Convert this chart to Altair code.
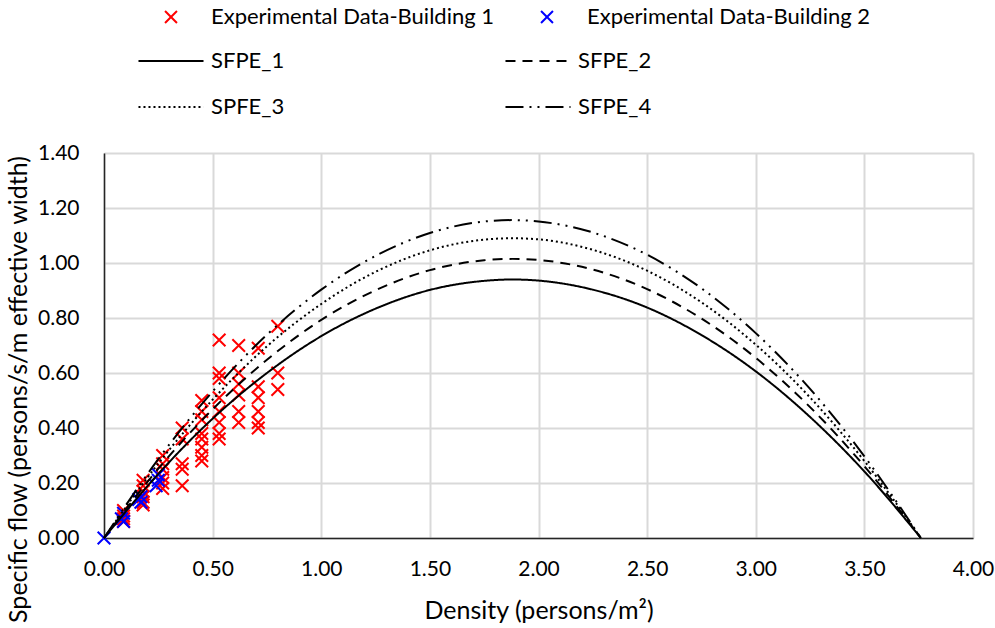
import altair as alt
import pandas as pd

# ---------------- data ----------------
series_points = ["Experimental Data-Building 1", "Experimental Data-Building 2"]
series_lines = ["SFPE_1", "SFPE_2", "SPFE_3", "SFPE_4"]

# Building 1 (red crosses)
b1_density = ([0.09] * 4 + [0.18] * 6 + [0.27] * 6 + [0.36] * 5 + [0.45] * 8
              + [0.53] * 8 + [0.62] * 6 + [0.71] * 6 + [0.80] * 3)
b1_flow = ([0.10, 0.08, 0.07, 0.06]
           + [0.21, 0.19, 0.17, 0.15, 0.13, 0.12]
           + [0.30, 0.27, 0.25, 0.22, 0.20, 0.18]
           + [0.40, 0.36, 0.27, 0.25, 0.19]
           + [0.50, 0.46, 0.43, 0.38, 0.36, 0.33, 0.30, 0.28]
           + [0.72, 0.60, 0.58, 0.51, 0.46, 0.42, 0.38, 0.36]
           + [0.70, 0.60, 0.56, 0.52, 0.46, 0.42]
           + [0.69, 0.55, 0.51, 0.46, 0.42, 0.40]
           + [0.77, 0.60, 0.54])

# Building 2 (blue crosses)
b2_density = [0.00, 0.08, 0.09, 0.09, 0.17, 0.17, 0.16, 0.25, 0.25, 0.24]
b2_flow = [0.00, 0.07, 0.09, 0.06, 0.15, 0.13, 0.14, 0.23, 0.21, 0.19]

# SFPE curves
curve_density = [0.00, 0.25, 0.50, 0.75, 1.00, 1.25, 1.50, 1.75, 1.88, 2.00,
                 2.25, 2.50, 2.75, 3.00, 3.25, 3.50, 3.76]
sfpe_1 = [0.000, 0.233, 0.434, 0.600, 0.734, 0.834, 0.902, 0.935, 0.940, 0.936,
          0.903, 0.838, 0.738, 0.606, 0.440, 0.242, 0.000]
sfpe_2 = [0.000, 0.252, 0.468, 0.648, 0.793, 0.901, 0.974, 1.010, 1.015, 1.011,
          0.976, 0.905, 0.798, 0.655, 0.476, 0.261, 0.000]
sfpe_3 = [0.000, 0.271, 0.503, 0.697, 0.851, 0.968, 1.046, 1.085, 1.090, 1.086,
          1.048, 0.972, 0.857, 0.703, 0.511, 0.280, 0.000]
sfpe_4 = [0.000, 0.287, 0.533, 0.739, 0.903, 1.026, 1.109, 1.151, 1.156, 1.151,
          1.111, 1.030, 0.908, 0.745, 0.542, 0.297, 0.000]

x_ticks = [0.0, 0.5, 1.0, 1.5, 2.0, 2.5, 3.0, 3.5, 4.0]
y_ticks = [0.0, 0.2, 0.4, 0.6, 0.8, 1.0, 1.2, 1.4]

# ---------------- tables ----------------
pts = pd.DataFrame({
    "density": b1_density + b2_density,
    "flow": b1_flow + b2_flow,
    "series": [series_points[0]] * len(b1_density) + [series_points[1]] * len(b2_density),
})

curves = [sfpe_1, sfpe_2, sfpe_3, sfpe_4]
rows = []
for name, vals in zip(series_lines, curves):
    for d, v in zip(curve_density, vals):
        rows.append({"density": d, "flow": v, "series": name})
lines = pd.DataFrame(rows)

# ---------------- styling ----------------
FONT = "Lato"
W, H = 869, 385
XPATH = "M-1,-1L1,1M-1,1L1,-1"
LEG_X = "M-0.55,-0.55L0.55,0.55M-0.55,0.55L0.55,-0.55"
LEG_LINE = "M-3,0L3,0"

x_enc = alt.X("density:Q",
              scale=alt.Scale(domain=[0, 4], nice=False, zero=False),
              axis=alt.Axis(values=x_ticks, format=".2f", title="Density (persons/m²)",
                            ticks=False, labelPadding=20, labelFontSize=21, labelFlush=False,
                            titleFontSize=25, titleFontWeight="normal",
                            titleY=72, titleBaseline="middle",
                            grid=True, gridColor="#d9d9d9", gridWidth=2,
                            domainColor="#262626", domainWidth=1.5,
                            labelColor="#000000", titleColor="#000000",
                            labelFont=FONT, titleFont=FONT))
y_enc = alt.Y("flow:Q",
              scale=alt.Scale(domain=[0, 1.4], nice=False, zero=False),
              axis=alt.Axis(values=y_ticks, format=".2f",
                            title="Specific flow (persons/s/m effective width)",
                            ticks=False, labelPadding=25, labelFontSize=21, labelFlush=False,
                            titleFontSize=25, titleFontWeight="normal",
                            titleX=-86, titleY=236, titleBaseline="middle",
                            grid=True, gridColor="#d9d9d9", gridWidth=2,
                            domainColor="#262626", domainWidth=1.5,
                            labelColor="#000000", titleColor="#000000",
                            labelFont=FONT, titleFont=FONT))

points = alt.Chart(pts).mark_point(
    shape=XPATH, filled=False, size=160, strokeWidth=2, opacity=1
).encode(
    x=x_enc, y=y_enc,
    color=alt.Color("series:N",
                    scale=alt.Scale(domain=series_points, range=["#ff0000", "#0000ff"]),
                    legend=alt.Legend(title=None, orient="none", legendX=55, legendY=-148,
                                      direction="horizontal",
                                      columns=2, columnPadding=40, padding=0,
                                      symbolType=LEG_X, symbolSize=470,
                                      symbolStrokeWidth=2, labelOffset=28,
                                      labelFont=FONT, labelFontSize=22,
                                      labelColor="#000000", labelLimit=400)),
)

curve_layer = alt.Chart(lines).mark_line(
    color="black", strokeWidth=2, interpolate="monotone"
).encode(
    x=x_enc, y=y_enc,
    strokeDash=alt.StrokeDash("series:N",
                              scale=alt.Scale(domain=series_lines,
                                              range=[[1, 0], [10, 7], [2, 3], [18, 6, 2, 6, 2, 6]]),
                              legend=alt.Legend(title=None, orient="none", legendX=55, legendY=-104,
                                                direction="horizontal",
                                                columns=2, columnPadding=216, rowPadding=23,
                                                padding=0, symbolType=LEG_LINE, symbolSize=470,
                                                symbolStrokeWidth=2, symbolStrokeColor="black",
                                                labelOffset=28, labelFont=FONT, labelFontSize=22,
                                                labelColor="#000000")),
)

chart = alt.layer(points, curve_layer).properties(
    width=W, height=H,
    autosize=alt.AutoSizeParams(type="none"),
    padding={"left": 104, "top": 153, "right": 22, "bottom": 90},
).configure_view(stroke=None).configure(background="white")

chart.save("out.html", embed_options={"renderer": "svg", "actions": False})
